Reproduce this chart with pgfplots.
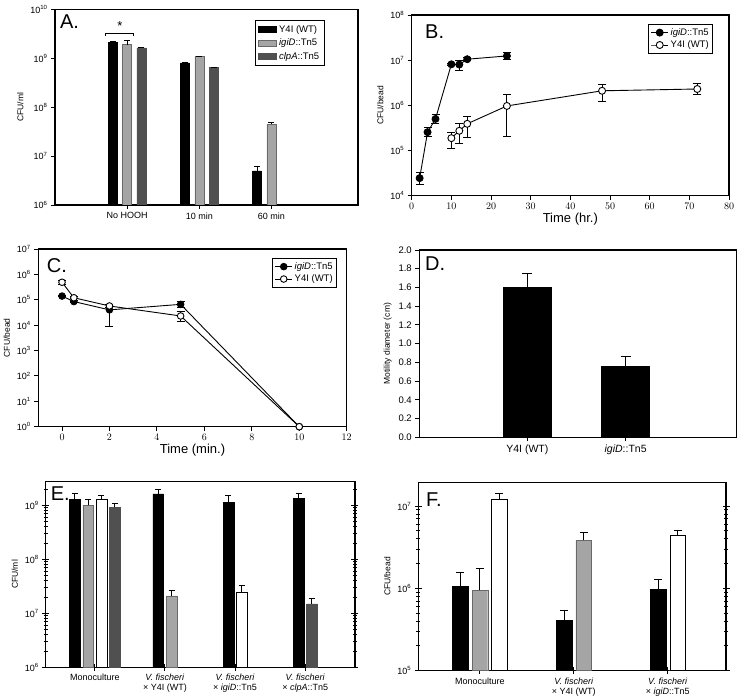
\documentclass[border=0pt]{standalone}
\usepackage{fontspec}
\setmainfont{Liberation Sans}
\usepackage{pgfplots}
\pgfplotsset{compat=1.18}

\definecolor{gLight}{RGB}{165,165,165}
\definecolor{gEdge}{RGB}{105,105,105}
\definecolor{gDark}{RGB}{80,80,80}

\pgfplotsset{
  panel/.style={scale only axis, anchor=north west,
    axis line style={line width=1.1pt},
    every tick/.style={black, line width=0.9pt},
    tick align=outside, xtick pos=left, ytick pos=left, major tick length=4pt,
    tick label style={font=\fontsize{9}{10}\selectfont},
    label style={font=\fontsize{8.5}{9}\selectfont}},
  ebar/.style={error bars/.cd, y dir=plus, y explicit,
    error bar style={black, line width=0.9pt},
    error mark options={rotate=90, black, line width=0.9pt, mark size=#1}},
  ebar/.default=3pt,
  ebartwo/.style={error bars/.cd, y dir=both, y explicit,
    error bar style={black, line width=0.9pt},
    error mark options={rotate=90, black, line width=0.9pt, mark size=4pt}},
}
\tikzset{letter/.style={anchor=west, inner sep=0pt, font=\fontsize{20}{20}\selectfont}}
\newcommand{\logtick}{\pgfmathtruncatemacro\myexp{round(\tick)}10\textsuperscript{\myexp}}

\begin{document}
\begin{tikzpicture}
\path[use as bounding box] (0,0) rectangle (740pt,697pt);

% A
\begin{axis}[panel, ymode=log, log basis y=10, yminorticks=false, log origin y=infty,
  yticklabel={\logtick},
  at={(55pt,687.7pt)}, width=303pt, height=195.7pt,
  ymin=1e6, ymax=1e10, ytick={1e6,1e7,1e8,1e9,1e10},
  xmin=0, xmax=4.2, xtick={1,2,3}, xticklabels={No HOOH,10 min,60 min},
  ylabel={CFU/ml},
  legend style={at={(0.89,0.945)}, anchor=north east, draw=black, line width=0.8pt,
    font=\fontsize{9.5}{10}\selectfont, row sep=1pt, inner sep=3pt},
  legend cell align=left,
  legend image code/.code={\draw[#1] (0pt,-3pt) rectangle (18pt,3pt);}]
\addplot[ybar, bar width=9pt, bar shift=0pt, fill=black, draw=black, ebar]
  coordinates {(0.801,2.1e9) +- (0,0.1e9) (1.801,8.0e8) +- (0,0.3e8) (2.801,5e6) +- (0,1.1e6)};
\addlegendentry{Y4I (WT)}
\addplot[ybar, bar width=9pt, bar shift=0pt, fill=gLight, draw=gEdge, ebar]
  coordinates {(1,1.9e9) +- (0,0.45e9) (2,1.08e9) +- (0,0.03e9) (3,4.5e7) +- (0,0.4e7)};
\addlegendentry{\textit{igiD}::Tn5}
\addplot[ybar, bar width=9pt, bar shift=0pt, fill=gDark, draw=gDark, ebar]
  coordinates {(1.199,1.62e9) +- (0,0.05e9) (2.199,6.4e8) +- (0,0.2e8)};
\addlegendentry{\textit{clpA}::Tn5}
\draw[line width=0.6pt] (axis cs:0.70,2.9e9) -- (axis cs:0.70,3.28e9) -- (axis cs:1.09,3.28e9) -- (axis cs:1.09,2.9e9);
\node[font=\fontsize{13}{13}\selectfont] at (axis cs:0.90,4.5e9) {*};
\node[letter] at (rel axis cs:0.016,0.935) {A.};
\end{axis}

% B
\begin{axis}[panel, ymode=log, log basis y=10, yminorticks=false,
  yticklabel={\logtick},
  at={(411.7pt,682pt)}, width=317.3pt, height=180.7pt,
  ymin=1e4, ymax=1e8, ytick={1e4,1e5,1e6,1e7,1e8},
  xmin=0, xmax=80, xtick={0,10,20,30,40,50,60,70,80},
  x tick label style={font=\fontsize{10}{11}\selectfont},
  xlabel={Time (hr.)}, ylabel={CFU/bead},
  xlabel style={font=\fontsize{13}{14}\selectfont, yshift=3pt},
  clip=false,
  legend style={at={(0.95,0.95)}, anchor=north east, draw=black, line width=0.8pt,
    font=\fontsize{9.5}{10}\selectfont, row sep=0pt, inner sep=2pt},
  legend cell align=left]
\addplot[black, line width=0.9pt, mark=*, mark size=3.5pt, mark options={fill=black}, ebartwo]
  coordinates {(2,2.45e4) += (0,0.75e4) -= (0,0.7e4)
    (4,2.55e5) += (0,0.69e5) -= (0,0.51e5)
    (6,5.0e5) += (0,1.2e5) -= (0,1.0e5)
    (10,8.1e6) += (0,0.5e6) -= (0,0.5e6)
    (12,8.0e6) += (0,2.0e6) -= (0,2.2e6)
    (14,1.05e7) += (0,0.7e6) -= (0,0.7e6)
    (24,1.24e7) += (0,2.3e6) -= (0,1.9e6)};
\addlegendentry{\textit{igiD}::Tn5}
\addplot[black, line width=0.9pt, mark=*, mark size=3.5pt, mark options={fill=white}, ebartwo]
  coordinates {(10,1.88e5) += (0,0.67e5) -= (0,0.75e5)
    (12,2.73e5) += (0,1.17e5) -= (0,1.26e5)
    (14,3.9e5) += (0,1.9e5) -= (0,1.96e5)
    (24,9.7e5) += (0,7.8e5) -= (0,7.65e5)
    (48,2.1e6) += (0,0.8e6) -= (0,0.9e6)
    (72,2.3e6) += (0,0.7e6) -= (0,0.6e6)};
\addlegendentry{Y4I (WT)}
\node[letter] at (rel axis cs:0.042,0.908) {B.};
\end{axis}

% C
\begin{axis}[panel, ymode=log, log basis y=10, yminorticks=false,
  yticklabel={\logtick},
  at={(38.3pt,448pt)}, width=308.4pt, height=177.7pt,
  ymin=1, ymax=1e7, ytick={1,1e1,1e2,1e3,1e4,1e5,1e6,1e7},
  xmin=-1, xmax=12, xtick={0,2,4,6,8,10,12},
  x tick label style={font=\fontsize{10}{11}\selectfont},
  xlabel={Time (min.)}, ylabel={CFU/bead},
  xlabel style={font=\fontsize{13}{14}\selectfont, yshift=3pt},
  clip=false,
  legend style={at={(0.969,0.949)}, anchor=north east, draw=black, line width=0.8pt,
    font=\fontsize{9.5}{10}\selectfont, row sep=0pt, inner sep=2pt},
  legend cell align=left]
\addplot[black, line width=0.9pt, mark=*, mark size=3.3pt, mark options={fill=black}, ebartwo]
  coordinates {(0,1.4e5) += (0,0.1e5) -= (0,0.1e5)
    (0.5,8.5e4) += (0,0.5e4) -= (0,0.5e4)
    (2,4.0e4) += (0,1.0e4) -= (0,3.07e4)
    (5,6.6e4) += (0,1.9e4) -= (0,1.5e4)
    (10,1)};
\addlegendentry{\textit{igiD}::Tn5}
\addplot[black, line width=0.9pt, mark=*, mark size=3.3pt, mark options={fill=white}, ebartwo]
  coordinates {(0,4.9e5) += (0,1.0e5) -= (0,1.0e5)
    (0.5,1.2e5) += (0,0.1e5) -= (0,0.1e5)
    (2,5.7e4) += (0,0.8e4) -= (0,0.8e4)
    (5,2.3e4) += (0,1.3e4) -= (0,0.9e4)
    (10,1)};
\addlegendentry{Y4I (WT)}
\node[letter] at (rel axis cs:0.027,0.904) {C.};
\end{axis}

% D
\begin{axis}[panel, at={(419.3pt,447pt)}, width=317.4pt, height=187.3pt,
  ymin=0, ymax=2, ytick={0,0.2,0.4,0.6,0.8,1.0,1.2,1.4,1.6,1.8,2.0},
  yticklabel style={font=\fontsize{9.5}{10}\selectfont,
    /pgf/number format/fixed, /pgf/number format/fixed zerofill,
    /pgf/number format/precision=1, /pgf/number format/assume math mode=true},
  x tick label style={font=\fontsize{10.5}{11}\selectfont},
  xmin=-0.1, xmax=3.13, xtick={1,2}, xticklabels={Y4I (WT),\textit{igiD}::Tn5},
  ylabel={Motility diameter (cm)}]
\addplot[ybar, bar width=48pt, fill=black, draw=black, ebar=5pt]
  coordinates {(1,1.6) +- (0,0.15) (2,0.76) +- (0,0.10)};
\node[letter] at (rel axis cs:0.018,0.929) {D.};
\end{axis}

% E
\begin{axis}[panel, ymode=log, log basis y=10, log origin y=infty,
  yticklabel={\logtick},
  at={(45.7pt,215.3pt)}, width=309.3pt, height=185.6pt,
  ymin=1e6, ymax=2.75e9, ytick={1e6,1e7,1e8,1e9},
  minor ytick={2e6,3e6,4e6,5e6,6e6,7e6,8e6,9e6,2e7,3e7,4e7,5e7,6e7,7e7,8e7,9e7,
    2e8,3e8,4e8,5e8,6e8,7e8,8e8,9e8,2e9},
  ytick pos=both, yticklabel pos=left, tick align=center,
  major tick length=7pt, minor tick length=4pt,
  xmin=0.30, xmax=4.71, xtick={1,2,3,4},
  xticklabel style={align=center},
  xticklabels={Monoculture,{\textit{V. fischeri}\\× Y4I (WT)},{\textit{V. fischeri}\\× \textit{igiD}::Tn5},{\textit{V. fischeri}\\× \textit{clpA}::Tn5}},
  ylabel={CFU/ml}]
\addplot[ybar, bar width=10.7pt, bar shift=0pt, fill=black, draw=black, ebar]
  coordinates {(0.715,1.3e9) +- (0,0.39e9) (1.905,1.64e9) +- (0,0.36e9)
    (2.905,1.13e9) +- (0,0.42e9) (3.905,1.36e9) +- (0,0.34e9)};
\addplot[ybar, bar width=10.7pt, bar shift=0pt, fill=gLight, draw=gEdge, ebar]
  coordinates {(0.905,1.0e9) +- (0,0.27e9) (2.095,2.1e7) +- (0,0.6e7)};
\addplot[ybar, bar width=10.7pt, bar shift=0pt, fill=white, draw=black, ebar]
  coordinates {(1.095,1.32e9) +- (0,0.18e9) (3.095,2.46e7) +- (0,0.84e7)};
\addplot[ybar, bar width=10.7pt, bar shift=0pt, fill=gDark, draw=gDark, ebar]
  coordinates {(1.285,0.93e9) +- (0,0.17e9) (4.095,1.49e7) +- (0,0.41e7)};
\node[letter] at (rel axis cs:0.016,0.9375) {E.};
\end{axis}

% F
\begin{axis}[panel, ymode=log, log basis y=10, log origin y=infty,
  yticklabel={\logtick},
  at={(418.3pt,214.7pt)}, width=307.7pt, height=188.4pt,
  ymin=1e5, ymax=1.95e7, ytick={1e5,1e6,1e7},
  minor ytick={2e5,3e5,4e5,5e5,6e5,7e5,8e5,9e5,2e6,3e6,4e6,5e6,6e6,7e6,8e6,9e6},
  ytick pos=both, yticklabel pos=left, tick align=center,
  major tick length=7pt, minor tick length=4pt,
  xmin=0.344, xmax=3.62, xtick={1,2,3},
  xticklabel style={align=center},
  xticklabels={Monoculture,{\textit{V. fischeri}\\× Y4I (WT)},{\textit{V. fischeri}\\× \textit{igiD}::Tn5}},
  ylabel={CFU/bead}]
\addplot[ybar, bar width=15.6pt, bar shift=0pt, fill=black, draw=black, ebar=4pt]
  coordinates {(0.793,1.07e6) +- (0,0.48e6) (1.896,4.1e5) +- (0,1.3e5) (2.896,0.98e6) +- (0,0.3e6)};
\addplot[ybar, bar width=15.6pt, bar shift=0pt, fill=gLight, draw=gEdge, ebar=4pt]
  coordinates {(1,0.95e6) +- (0,0.78e6) (2.104,3.83e6) +- (0,0.97e6)};
\addplot[ybar, bar width=15.6pt, bar shift=0pt, fill=white, draw=black, ebar=4pt]
  coordinates {(1.207,1.22e7) +- (0,0.2e7) (3.104,4.4e6) +- (0,0.6e6)};
\node[letter] at (rel axis cs:0.025,0.906) {F.};
\end{axis}
\end{tikzpicture}
\end{document}
